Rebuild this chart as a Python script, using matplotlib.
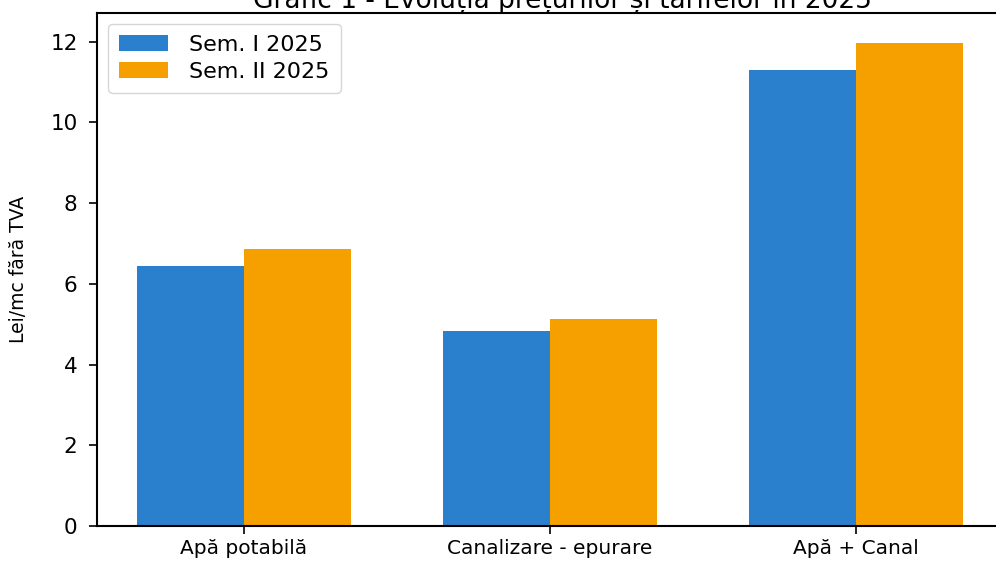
import matplotlib.pyplot as plt
import numpy as np

categories = ['Apă potabilă', 'Canalizare - epurare', 'Apă + Canal']
sem1 = [6.45, 4.84, 11.31]
sem2 = [6.87, 5.14, 11.98]
series_labels = ['Sem. I 2025', 'Sem. II 2025']

fig = plt.figure(figsize=(9.96, 5.64), dpi=100)
ax = fig.add_axes([0.0974, 0.0674, 0.9096, 0.91])

x = np.arange(len(categories))
w = 0.35
ax.bar(x - w / 2, sem1, w, color='#2a80cc', label=series_labels[0])
ax.bar(x + w / 2, sem2, w, color='#f6a000', label=series_labels[1])

ax.set_xlim(-0.48, 2.48)
ax.set_ylim(0, 12.72)
ax.set_yticks([0, 2, 4, 6, 8, 10, 12])
ax.set_xticks(x)
ax.set_xticklabels(categories, fontsize=14.5)
ax.tick_params(axis='y', labelsize=15.5, length=6, width=1.2, pad=8)
ax.tick_params(axis='x', length=6, width=1.2)
ax.set_ylabel('Lei/mc fără TVA', fontsize=13.5, labelpad=16)
for s in ax.spines.values():
    s.set_linewidth(1.5)

ax.legend(loc='upper left', fontsize=16, frameon=True, borderpad=0.5,
          labelspacing=0.3, handlelength=2.2, handletextpad=0.95)

# title sits at the very top edge, as in the scanned original
fig.text(0.565, 1 - 8 / 564, 'Grafic 1 - Evoluția prețurilor și tarifelor în 2025',
         ha='center', va='baseline', fontsize=19)

fig.savefig('out.png', dpi=100)
